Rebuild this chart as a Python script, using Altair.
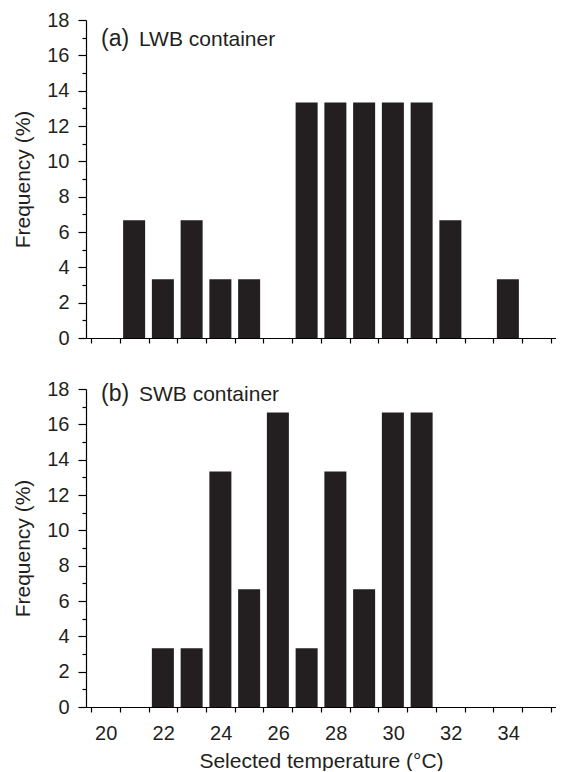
import altair as alt
import pandas as pd

# ---- data ----
temps = list(range(20, 36))  # selected temperature bins (°C)
lwb_freq = [0, 6.67, 3.33, 6.67, 3.33, 3.33, 0, 13.33, 13.33, 13.33, 13.33, 13.33, 6.67, 0, 3.33, 0]
swb_freq = [0, 0, 3.33, 3.33, 13.33, 6.67, 16.67, 3.33, 13.33, 6.67, 16.67, 16.67, 0, 0, 0, 0]
panel_letters = ["(a)", "(b)"]
panel_names = ["LWB container", "SWB container"]
y_ticks = list(range(0, 19))
x_edges = [t - 0.5 for t in temps] + [temps[-1] + 0.5]

FONT = "Liberation Sans"
BAR_COLOR = "#231f20"
W, H = 470, 318


def panel(freq, letter, name, bottom, text_y):
    df = pd.DataFrame({"temp": temps, "freq": freq})
    if bottom:
        xaxis = alt.Axis(
            values=x_edges,
            labelExpr="(datum.value + 0.5) % 2 == 0 && datum.value < 35 ? format(datum.value + 0.5, 'd') : ''",
            labelOffset={"condition": {"test": "datum.value < 35", "value": W / 32}, "value": 0},
            labelFlush=False,
            labelOverlap=False,
            labelPadding=11,
            tickSize=5,
            title="Selected temperature (°C)",
            titlePadding=7,
        )
    else:
        xaxis = alt.Axis(values=x_edges, labels=False, tickSize=5, title=None)
    yaxis = alt.Axis(
        values=y_ticks,
        labelExpr="datum.value % 2 == 0 ? datum.label : ''",
        labelOverlap=False,
        labelFlush=False,
        tickSize={"condition": {"test": "datum.value % 2 == 0", "value": 8}, "value": 4},
        labelPadding=9,
        title="Frequency (%)",
        titlePadding=13,
    )
    bars = alt.Chart(df).mark_bar(width=22, color=BAR_COLOR).encode(
        x=alt.X("temp:Q", scale=alt.Scale(domain=[x_edges[0], x_edges[-1]], nice=False, zero=False), axis=xaxis),
        y=alt.Y("freq:Q", scale=alt.Scale(domain=[0, 18], nice=False), axis=yaxis),
    )
    tdf = pd.DataFrame({"letter": [letter], "name": [name]})
    t1 = alt.Chart(tdf).mark_text(align="left", baseline="alphabetic", font=FONT, fontSize=23, color="#231f20").encode(
        text="letter:N", x=alt.value(15), y=alt.value(text_y)
    )
    t2 = alt.Chart(tdf).mark_text(align="left", baseline="alphabetic", font=FONT, fontSize=21, color="#231f20").encode(
        text="name:N", x=alt.value(53), y=alt.value(text_y)
    )
    return alt.layer(bars, t1, t2).properties(width=W, height=H)


top = panel(lwb_freq, panel_letters[0], panel_names[0], False, 26)
bot = panel(swb_freq, panel_letters[1], panel_names[1], True, 12)

chart = alt.vconcat(top, bot, spacing=31).properties(
    padding={"left": 4, "top": 2, "right": 0, "bottom": 0},
).configure_view(stroke=None).configure_axis(
    domainColor="black",
    domainWidth=1.2,
    tickColor="black",
    tickWidth=1.2,
    grid=False,
    labelFont=FONT,
    labelFontSize=20,
    labelColor="#231f20",
    titleFont=FONT,
    titleFontSize=21,
    titleFontWeight="normal",
    titleColor="#231f20",
)

chart.save("out.html", embed_options={"renderer": "svg", "actions": False})
